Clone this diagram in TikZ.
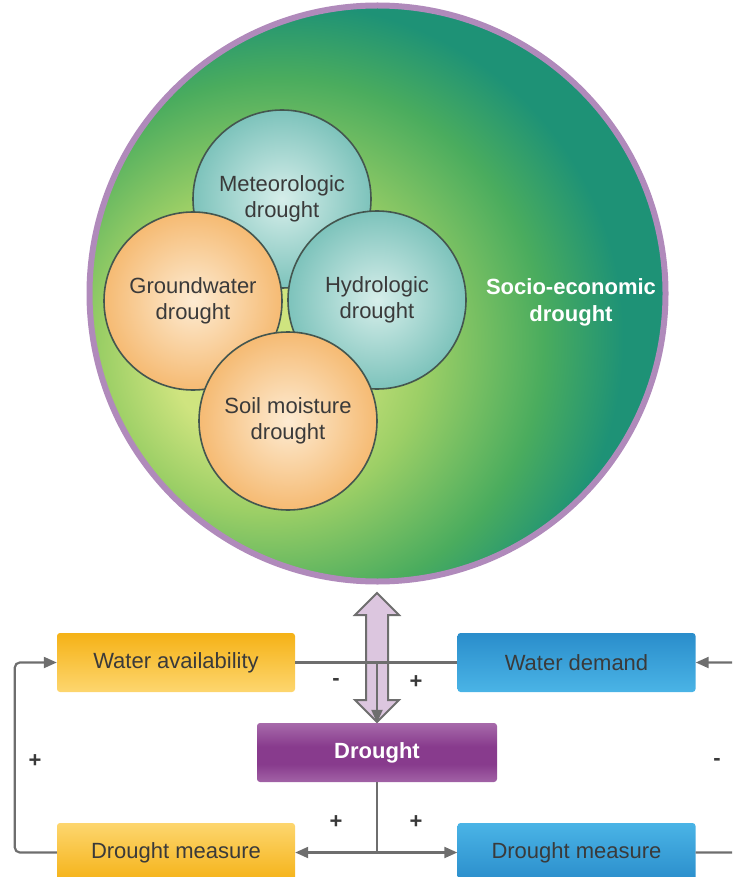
\documentclass[tikz,border=0pt]{standalone}
\usepackage{fontspec}
\setmainfont{Liberation Sans}
\usetikzlibrary{shapes.arrows,arrows.meta}
\definecolor{socioin}{HTML}{CFE47F}
\definecolor{sociomid}{HTML}{9CCF66}
\definecolor{sociogreen}{HTML}{4AAC5E}
\definecolor{socioout}{HTML}{1E9276}
\definecolor{socioring}{HTML}{B08ABB}
\definecolor{tealin}{HTML}{D6EEEA}
\definecolor{tealout}{HTML}{56B0A7}
\definecolor{orangein}{HTML}{FDEBD2}
\definecolor{orangeout}{HTML}{F2A549}
\definecolor{discline}{HTML}{44564F}
\definecolor{availtop}{HTML}{F5B216}
\definecolor{availbot}{HTML}{FDD66F}
\definecolor{demandtop}{HTML}{2A8DCB}
\definecolor{demandbot}{HTML}{4AB4E6}
\definecolor{droughtlight}{HTML}{CDA4CF}
\definecolor{droughtdark}{HTML}{883B8D}
\definecolor{linkgray}{HTML}{6E6E6E}
\definecolor{dblfill}{HTML}{DCC6DF}
\definecolor{boxtext}{HTML}{3A3A3A}
\pgfdeclareradialshading{socioshade}{\pgfpoint{-12bp}{-6bp}}{color(0bp)=(socioin); color(7bp)=(socioin); color(14bp)=(sociomid); color(23bp)=(sociogreen); color(29bp)=(socioout); color(80bp)=(socioout)}
\pgfdeclareradialshading{tealshade}{\pgfpoint{0bp}{0bp}}{color(0bp)=(tealin); color(36bp)=(tealout); color(80bp)=(tealout)}
\pgfdeclareradialshading{orangeshade}{\pgfpoint{0bp}{0bp}}{color(0bp)=(orangein); color(36bp)=(orangeout); color(80bp)=(orangeout)}
\pgfdeclareverticalshading{droughtshade}{100bp}{color(0bp)=(droughtlight); color(40bp)=(droughtdark); color(55bp)=(droughtdark); color(100bp)=(droughtlight)}
\begin{document}
\begin{tikzpicture}[x=1pt, y=-1pt,
    disc/.style={circle, draw=discline, line width=1.6pt, minimum size=178pt, inner sep=0pt, align=center, text=boxtext, font=\fontsize{22}{26}\selectfont},
    box/.style={rectangle, rounded corners=3pt, minimum width=238pt, minimum height=59pt, text=boxtext, font=\fontsize{22}{26}\selectfont},
    wire/.style={draw=linkgray, line width=2.2pt},
    flow/.style={wire, -{Triangle[length=13pt,width=11pt]}},
    sign/.style={text=boxtext, font=\fontsize{22}{26}\selectfont\bfseries}]
    \useasboundingbox (0,0) rectangle (732,877);
    \clip (0,0) rectangle (732,877);

    \node[circle, minimum size=576pt, shade, shading=socioshade, draw=socioring, line width=6pt] (socio) at (377.5,293.5) {};
    \node[align=center, text=white, font=\fontsize{22}{27}\selectfont\bfseries] (sociotext) at (571,302) {Socio-economic\\drought};

    \node[disc, shade, shading=tealshade] (meteo) at (282,199) {Meteorologic\\drought};
    \node[disc, shade, shading=tealshade] (hydro) at (377,300) {Hydrologic\\drought};
    \node[disc, shade, shading=orangeshade] (ground) at (193,301) {Groundwater\\drought};
    \node[disc, shade, shading=orangeshade] (soil) at (288,421) {Soil moisture\\drought};

    \node[double arrow, rotate=90, draw=linkgray, line width=2pt, fill=dblfill, minimum height=129pt, minimum width=42pt, inner sep=10pt, double arrow head extend=11pt] (exchange) at (377,657.5) {};

    \node[box, top color=availtop, bottom color=availbot] (avail) at (176,662.5) {Water availability};
    \node[box, top color=demandtop, bottom color=demandbot] (demand) at (576.5,662.5) {Water demand};
    \node[box, minimum width=240pt, shade, shading=droughtshade, text=white, font=\fontsize{22}{26}\selectfont\bfseries] (drought) at (377,752.5) {Drought};
    \node[box, top color=availbot, bottom color=availtop] (measL) at (176,852.5) {Drought measure};
    \node[box, top color=demandbot, bottom color=demandtop] (measR) at (576.5,852.5) {Drought measure};

    \coordinate (join) at (drought.north |- avail.east);
    \coordinate (split) at (drought.south |- measL.east);
    \draw[wire] (avail.east) -- (demand.west);
    \draw[flow] (join) -- (drought.north);
    \draw[wire] (drought.south) -- (split);
    \draw[flow] (split) -- (measL.east);
    \draw[flow] (split) -- (measR.west);
    \draw[flow, rounded corners=5pt] (measL.west) -- ++(-42,0) |- (avail.west);
    \draw[flow, rounded corners=5pt] (measR.east) -- ++(45,0) |- (demand.east);

    \node[sign] (minusA) at (336,682) {-};
    \node[sign] (plusA) at (416,682) {+};
    \node[sign] (plusB) at (336,822) {+};
    \node[sign] (plusC) at (416,822) {+};
    \node[sign] (plusD) at (35,761) {+};
    \node[sign] (minusB) at (717,762) {-};
\end{tikzpicture}
\end{document}
